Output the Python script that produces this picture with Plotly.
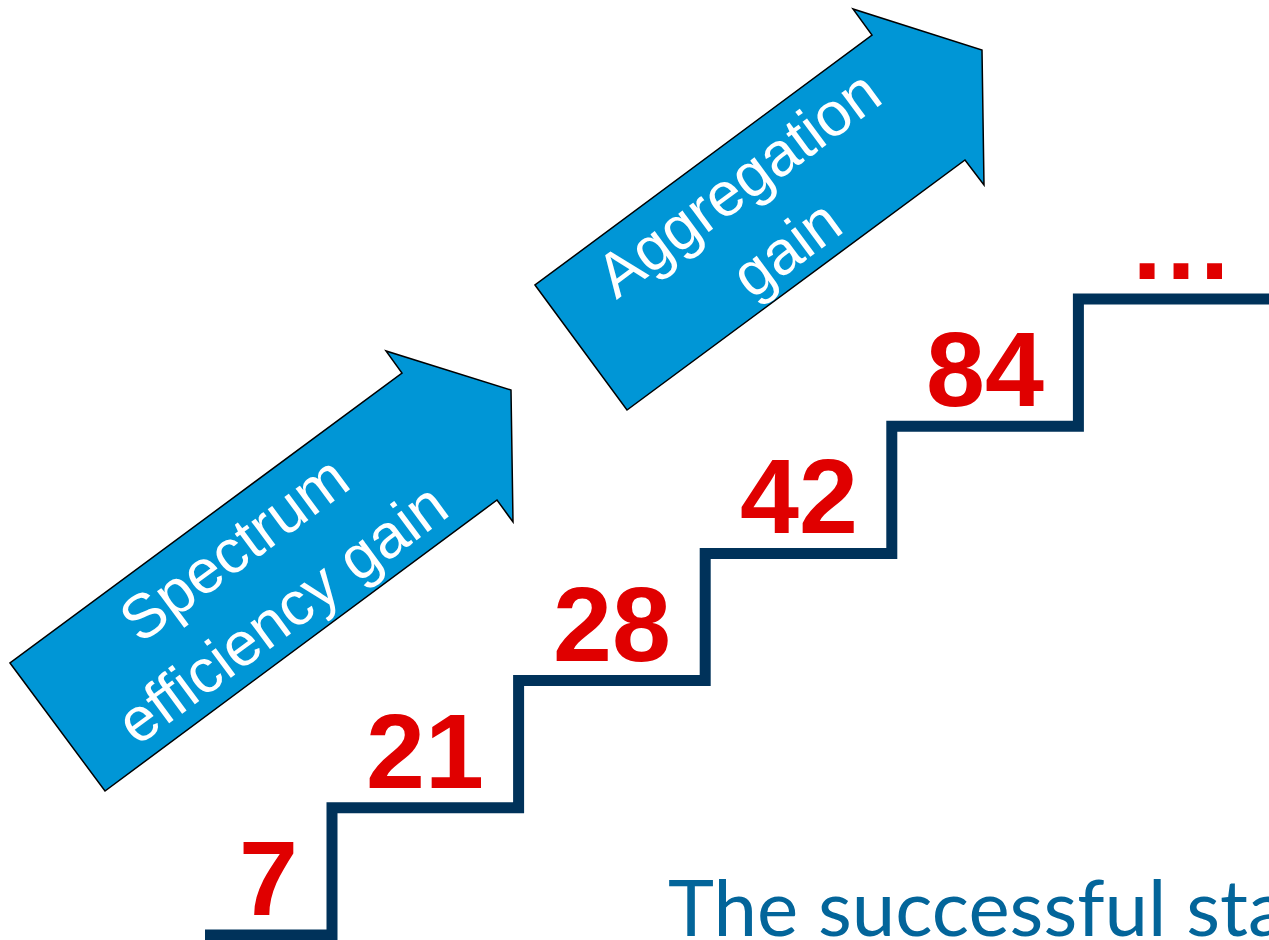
import plotly.graph_objects as go

# values written on each tread, bottom to top
step_labels = ["7", "21", "28", "42", "84", "…"]
step_levels = [0, 1, 2, 3, 4, 5]

arrow_labels = ["Spectrum<br>efficiency gain", "Aggregation<br>gain"]
footer_text = "The successful sta"

W, H = 1269, 940
NAVY = "#00325A"
RED = "#E00000"
BLUE = "#0096D6"
TEAL = "#03659A"

# staircase geometry in pixels: first riser at x=332, ground line at y=935
STEP_W, STEP_H = 186.6, 127.2
X0_PX, Y0_PX = 332, 935
FIRST_TREAD = 1 + (205 - X0_PX) / STEP_W

x_range = [1 - X0_PX / STEP_W, 1 + (W - X0_PX) / STEP_W]
y_range = [(Y0_PX - H) / STEP_H, Y0_PX / STEP_H]

# arrow outlines (pixel coords, y down)
ARROW_1 = [(10, 663), (105, 791), (497, 500), (513, 522), (511, 390), (386, 351), (402, 373)]
ARROW_2 = [(535, 285), (627, 410), (965, 160), (984, 185), (982, 50), (853, 9), (872, 35)]
ARROW_TEXT_POS = [(258, 581), (762, 216)]


def px_to_paper(x, y):
    return x / W, 1 - y / H


def arrow_path(pts):
    coords = [px_to_paper(x, y) for x, y in pts]
    return "M " + " L ".join(f"{x:.5f},{y:.5f}" for x, y in coords) + " Z"


fig = go.Figure()

# the staircase itself
stair_x = [FIRST_TREAD] + step_levels[1:] + [x_range[1] + 0.3]
stair_y = step_levels + [step_levels[-1]]
fig.add_trace(go.Scatter(
    x=stair_x, y=stair_y, mode="lines", line_shape="hv",
    line=dict(color=NAVY, width=11), hoverinfo="skip", showlegend=False
))

# numbers on the treads (the last, open tread gets its label nudged right)
tread_start = [FIRST_TREAD] + step_levels[1:]
tread_end = step_levels[1:] + [x_range[1]]
for i, (lbl, lvl, a, b) in enumerate(zip(step_labels, step_levels, tread_start, tread_end)):
    fig.add_annotation(
        x=(a + b) / 2, y=lvl, text=f"<b>{lbl}</b>", showarrow=False,
        xanchor="center", yanchor="bottom", yshift=-4,
        xshift=7 if i == len(step_labels) - 1 else 0,
        font=dict(family="Liberation Sans, Arial", size=106, color=RED)
    )

# blue arrows
for pts in (ARROW_1, ARROW_2):
    fig.add_shape(type="path", xref="paper", yref="paper", path=arrow_path(pts),
                  fillcolor=BLUE, line=dict(color="black", width=1.5), layer="below")

for txt, (cx, cy) in zip(arrow_labels, ARROW_TEXT_POS):
    px_, py_ = px_to_paper(cx, cy)
    fig.add_annotation(
        x=px_, y=py_, xref="paper", yref="paper", text=txt, showarrow=False,
        textangle=-36.5, xanchor="center", yanchor="middle",
        font=dict(family="Liberation Sans, Arial", size=62, color="white")
    )

# footer title, cut off at the right edge
fx, fy = px_to_paper(666, 906)
fig.add_annotation(
    x=fx, y=fy, xref="paper", yref="paper", text=footer_text, showarrow=False,
    xanchor="left", yanchor="middle",
    font=dict(family="Lato, Carlito, Calibri", size=78, color=TEAL)
)

fig.update_xaxes(range=x_range, visible=False, showgrid=False, zeroline=False)
fig.update_yaxes(range=y_range, visible=False, showgrid=False, zeroline=False)
fig.update_layout(
    width=W, height=H, margin=dict(l=0, r=0, t=0, b=0),
    paper_bgcolor="white", plot_bgcolor="white", showlegend=False
)

# drop the default page margin so the figure sits at the window corner
fig.write_html(
    "out.html",
    config={"displayModeBar": False, "staticPlot": True},
    post_script="document.body.style.margin='0';document.body.style.overflow='hidden';",
)
